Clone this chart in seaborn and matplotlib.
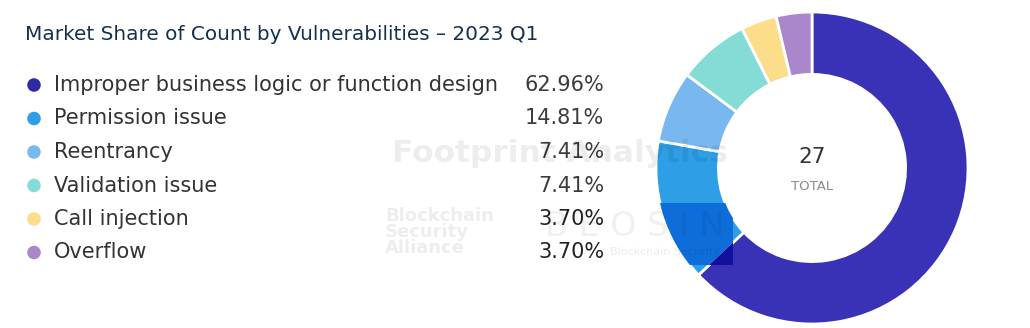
import matplotlib
matplotlib.use("Agg")
import matplotlib.pyplot as plt
from matplotlib.patches import Rectangle
import seaborn as sns
import pandas as pd

# Vulnerability categories for 2023 Q1 and their share of incident count
categories = [
    "Improper business logic or function design",
    "Permission issue",
    "Reentrancy",
    "Validation issue",
    "Call injection",
    "Overflow",
]
shares = [62.96, 14.81, 7.41, 7.41, 3.70, 3.70]
total_count = 27
title = "Market Share of Count by Vulnerabilities \u2013 2023 Q1"

slice_colors = ["#3932B7", "#2E9FE6", "#79B8EE", "#85DCD6", "#FCDE8A", "#AA86CA"]
dot_colors = ["#2F2AA3", "#2E9FE6", "#79B8EE", "#85DCD6", "#FCDE8A", "#AA86CA"]

sns.set_theme(style="white")
plt.rcParams["font.family"] = ["DejaVu Sans"]

W, H = 1030, 328
fig = plt.figure(figsize=(W / 100, H / 100), dpi=100)
fig.patch.set_facecolor("white")

# ---- legend panel (pixel coordinates) ----
ax_l = fig.add_axes([0, 0, 640 / W, 1])

row_y = [85 + 33.5 * i for i in range(len(categories))]
legend_df = pd.DataFrame({"x": [34] * len(categories), "y": row_y, "cat": categories})
sns.scatterplot(data=legend_df, x="x", y="y", hue="cat", palette=dot_colors,
                s=95, edgecolor="none", legend=False, ax=ax_l, zorder=3)
ax_l.set_xlim(0, 640)
ax_l.set_ylim(H, 0)
ax_l.axis("off")

ax_l.text(25, 35, title, fontsize=14.4, color="#15304F", va="center", ha="left")
for i, (cat, val) in enumerate(zip(categories, shares)):
    ax_l.text(54, row_y[i], cat, fontsize=15.0, color="#333333", va="center", ha="left")
    pct_color = "#222222" if val < 5 else "#3c3c3c"
    ax_l.text(604, row_y[i], f"{val:.2f}%", fontsize=15.0, color=pct_color,
              va="center", ha="right")

# ---- donut ----
cx, cy, R = 812, 168, 156
ax_p = fig.add_axes([(cx - 160) / W, (H - cy - 160) / H, 320 / W, 320 / H])
wedges, _ = ax_p.pie(shares, colors=slice_colors, startangle=90, counterclock=False,
                     radius=R, wedgeprops=dict(width=R * 0.4, edgecolor="white", linewidth=2))
ax_p.set_xlim(-160, 160)
ax_p.set_ylim(-160, 160)
ax_p.set_aspect("equal")
ax_p.axis("off")

ax_p.text(0, cy - 157, str(total_count), fontsize=15.5, color="#333333",
          ha="center", va="center")
ax_p.text(0, cy - 186, "TOTAL", fontsize=9.5, color="#8a8a8a",
          ha="center", va="center")

# darker box of the BEOSIN badge tinting the ring where it overlaps
for wedge, tint in ((wedges[1], "#0E6DD8"), (wedges[0], "#14109E")):
    box = Rectangle((640 - cx, cy - 265), 93, 62, facecolor=tint, edgecolor="none", zorder=2)
    ax_p.add_patch(box)
    box.set_clip_path(wedge)

# ---- faint watermarks ----
wm = dict(color="black", alpha=0.07, fontweight="bold")
fig.text(392 / W, 1 - 153 / H, "Footprint Analytics", fontsize=22.5, va="center", ha="left", **wm)
fig.text(385 / W, 1 - 232 / H, "Blockchain\nSecurity\nAlliance", fontsize=13,
         va="center", ha="left", linespacing=0.85, **wm)
fig.text(545 / W, 1 - 226 / H, "B E O S I N", fontsize=24, va="center", ha="left",
         color="black", alpha=0.06)
fig.text(610 / W, 1 - 252 / H, "Blockchain Security", fontsize=8, va="center", ha="left",
         color="black", alpha=0.08)

fig.savefig("out.png", dpi=100, facecolor="white")
